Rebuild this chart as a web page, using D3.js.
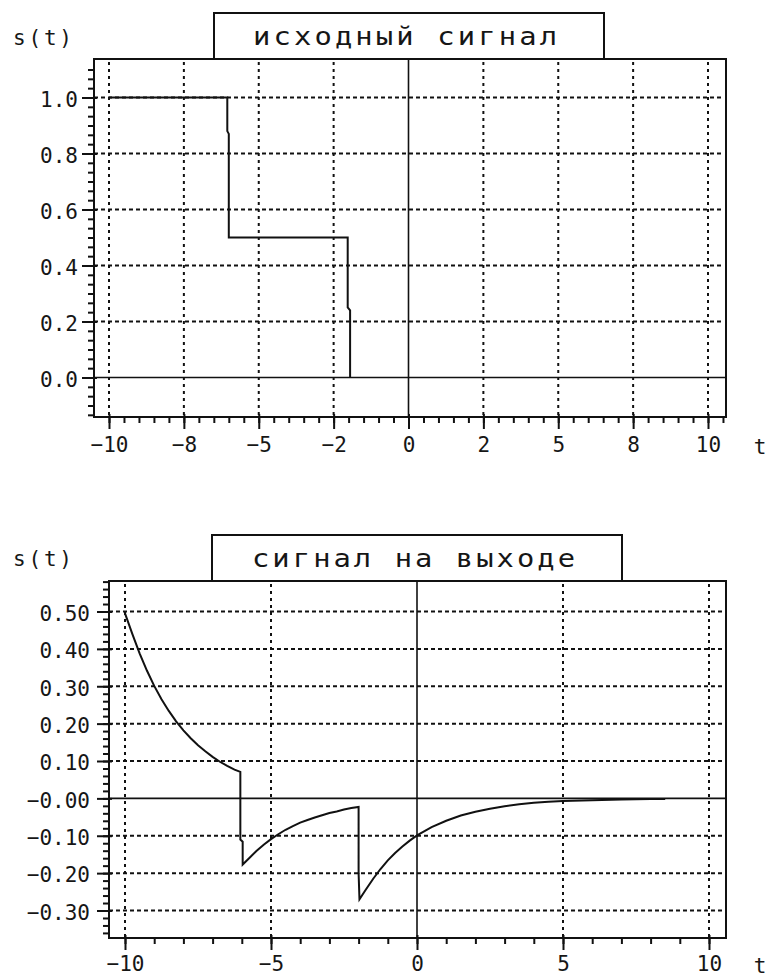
<!DOCTYPE html>
<html><head><meta charset="utf-8">
<script src="https://cdn.jsdelivr.net/npm/d3@7/dist/d3.min.js"></script>
<style>
body{margin:0;background:#fff}
svg text{font-family:"DejaVu Sans Mono",monospace;fill:#161616}
</style></head><body>
<svg id="c" width="771" height="979"></svg>
<script>
// ---------- data ----------
const topTitle = "исходный сигнал";
const botTitle = "сигнал на выходе";
const yName = "s(t)";
const xName = "t";

const inputT = [-10, -6.05, -6.05, -6.0, -6.0, -2.03, -2.03, -1.95, -1.95];
const inputS = [1.0, 1.0, 0.88, 0.87, 0.5, 0.5, 0.25, 0.24, 0.0];

const outputT = [-10, -9.75, -9.5, -9.25, -9, -8.75, -8.5, -8.25, -8, -7.75, -7.5, -7.25, -7, -6.75, -6.5, -6.25, -6.05,
  -6.05, -5.97, -5.97, -5.75, -5.5, -5.25, -5, -4.75, -4.5, -4.25, -4, -3.75, -3.5, -3.25, -3, -2.75, -2.5, -2.25, -2.0,
  -2.0, -1.97, -1.75, -1.5, -1.25, -1, -0.75, -0.5, -0.25, 0, 0.5, 1, 1.5, 2, 2.5, 3, 3.5, 4, 4.5, 5, 6, 7, 8, 8.5];
const outputS = [0.495, 0.440, 0.388, 0.342, 0.301, 0.265, 0.234, 0.206, 0.182, 0.161, 0.142, 0.126, 0.111, 0.098, 0.087, 0.077, 0.071,
  -0.110, -0.116, -0.177, -0.160, -0.141, -0.124, -0.109, -0.096, -0.084, -0.074, -0.065, -0.058, -0.051, -0.045, -0.039, -0.035, -0.030, -0.026, -0.023,
  -0.200, -0.270, -0.244, -0.215, -0.189, -0.166, -0.146, -0.129, -0.113, -0.099, -0.077, -0.060, -0.046, -0.036, -0.028, -0.021, -0.016, -0.012, -0.009, -0.007, -0.005, -0.003, -0.002, -0.002];

const topXTicks = [-10, -7.5, -5, -2.5, 0, 2.5, 5, 7.5, 10];
const topXLabels = ["−10", "−8", "−5", "−2", "0", "2", "5", "8", "10"];
const topYTicks = [0, 0.2, 0.4, 0.6, 0.8, 1.0];
const topYLabels = ["0.0", "0.2", "0.4", "0.6", "0.8", "1.0"];
const botXTicks = [-10, -5, 0, 5, 10];
const botXLabels = ["−10", "−5", "0", "5", "10"];
const botYTicks = [-0.3, -0.2, -0.1, 0, 0.1, 0.2, 0.3, 0.4, 0.5];
const botYLabels = ["−0.30", "−0.20", "−0.10", "−0.00", "0.10", "0.20", "0.30", "0.40", "0.50"];

// ---------- drawing ----------
const svg = d3.select("#c");

function panel(cfg) {
  const g = svg.append("g");
  const x = d3.scaleLinear().domain([-10, 10]).range(cfg.xr);
  const y = d3.scaleLinear().domain(cfg.yd).range(cfg.yr);
  const f = cfg.frame; // [x0,y0,x1,y1]

  // title box
  g.append("rect").attr("x", cfg.tb[0]).attr("y", cfg.tb[1])
    .attr("width", cfg.tb[2] - cfg.tb[0]).attr("height", f[1] - cfg.tb[1])
    .attr("fill", "#fff").attr("stroke", "#111").attr("stroke-width", 2);
  const sx = 1.2;
  g.append("text").attr("transform", `translate(${cfg.tt[0]},${cfg.tt[1]}) scale(${sx},1)`)
    .attr("font-size", 24).attr("textLength", cfg.tt[2] / sx).attr("lengthAdjust", "spacing")
    .text(cfg.title);

  // frame
  g.append("rect").attr("x", f[0]).attr("y", f[1]).attr("width", f[2] - f[0]).attr("height", f[3] - f[1])
    .attr("fill", "#fff").attr("stroke", "#111").attr("stroke-width", 2);

  // grid
  g.selectAll(".gx").data(cfg.xt.filter(d => d !== 0)).enter().append("line")
    .attr("x1", d => x(d)).attr("x2", d => x(d)).attr("y1", f[1] + 3).attr("y2", f[3])
    .attr("stroke", "#111").attr("stroke-width", 2).attr("stroke-dasharray", "3,4");
  g.selectAll(".gy").data(cfg.yt.filter(d => Math.abs(d) > 1e-9)).enter().append("line")
    .attr("y1", d => y(d)).attr("y2", d => y(d)).attr("x1", f[0]).attr("x2", f[2] - 3)
    .attr("stroke", "#111").attr("stroke-width", 2).attr("stroke-dasharray", "4,3");
  // zero axes
  g.append("line").attr("x1", f[0]).attr("x2", f[2]).attr("y1", y(0)).attr("y2", y(0))
    .attr("stroke", "#111").attr("stroke-width", 1.6);
  g.append("line").attr("x1", x(0)).attr("x2", x(0)).attr("y1", f[1]).attr("y2", f[3])
    .attr("stroke", "#111").attr("stroke-width", 1.6);

  // axes: minor and major ticks
  const axB = g.append("g").attr("transform", `translate(0,${f[3]})`);
  axB.call(d3.axisBottom(x).tickValues(cfg.xminor).tickSize(6).tickFormat(""));
  const axB2 = g.append("g").attr("transform", `translate(0,${f[3]})`);
  axB2.call(d3.axisBottom(x).tickValues(cfg.xt).tickSize(12).tickPadding(cfg.xpad)
    .tickFormat((d, i) => cfg.xl[i]));
  const axL = g.append("g").attr("transform", `translate(${f[0]},0)`);
  axL.call(d3.axisLeft(y).tickValues(cfg.yminor).tickSize(6).tickFormat(""));
  const axL2 = g.append("g").attr("transform", `translate(${f[0]},0)`);
  axL2.call(d3.axisLeft(y).tickValues(cfg.yt).tickSize(12).tickPadding(cfg.ypad)
    .tickFormat((d, i) => cfg.yl[i]));
  g.selectAll(".domain").remove();
  g.selectAll(".tick line").attr("stroke", "#111").attr("stroke-width", 2);
  axB2.selectAll(".tick line").attr("y1", -3);
  axL2.selectAll(".tick line").attr("x1", 3);
  g.selectAll(".tick text").attr("font-size", 21).attr("font-family", "DejaVu Sans Mono").attr("fill", "#161616");
  axL2.selectAll(".tick text").attr("dy", "0.42em");

  // axis names
  g.append("text").attr("x", cfg.yn[0]).attr("y", cfg.yn[1]).attr("font-size", 21)
    .attr("textLength", 59).attr("lengthAdjust", "spacing").text(yName);
  g.append("text").attr("x", cfg.xn[0]).attr("y", cfg.xn[1]).attr("font-size", 21).attr("text-anchor", "middle").text(xName);

  // data line
  const pts = cfg.t.map((t, i) => [t, cfg.s[i]]);
  g.append("path").datum(pts)
    .attr("d", d3.line().x(d => x(d[0])).y(d => y(d[1])))
    .attr("fill", "none").attr("stroke", "#111").attr("stroke-width", 2);
}

panel({
  frame: [94, 59, 726, 417], xr: [109, 708], yd: [0, 1], yr: [377.5, 97.5],
  tb: [214, 13, 604], tt: [253, 45, 304], title: topTitle,
  xt: topXTicks, xl: topXLabels, yt: topYTicks, yl: topYLabels,
  xminor: d3.range(-10, 10.51, 0.5), yminor: d3.range(-4, 34).map(k => k / 30),
  xpad: 8, ypad: 4, yn: [13, 45], xn: [760, 454],
  t: inputT, s: inputS
});
panel({
  frame: [109, 581, 726, 938], xr: [125, 709], yd: [-0.3, 0.5], yr: [910.5, 611.5],
  tb: [212, 535, 622], tt: [252, 567, 323], title: botTitle,
  xt: botXTicks, xl: botXLabels, yt: botYTicks, yl: botYLabels,
  xminor: d3.range(-10, 11, 1), yminor: d3.range(-18, 30).map(k => k / 50),
  xpad: 6, ypad: 7, yn: [13, 566], xn: [760, 973],
  t: outputT, s: outputS
});
</script>
</body></html>
